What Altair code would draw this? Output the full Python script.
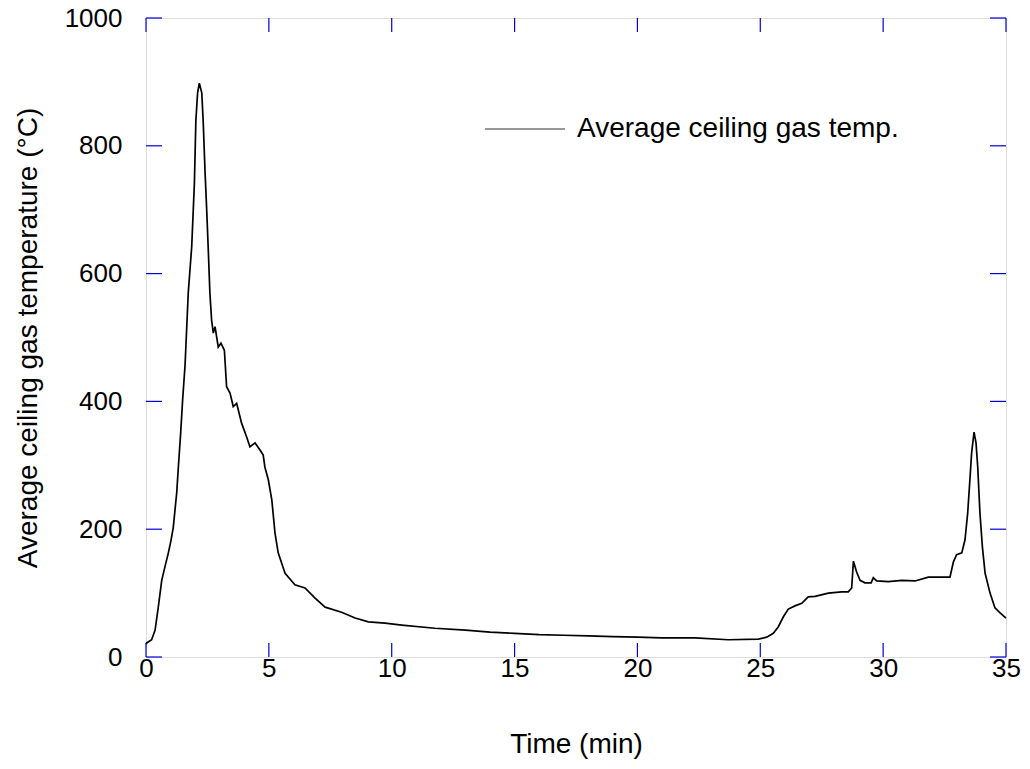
import altair as alt
import pandas as pd

# ---- data ----
time_min = [0.0, 0.03, 0.23, 0.37, 0.50, 0.64, 0.77, 0.91, 1.02, 1.11, 1.25, 1.31, 1.41, 1.49,
            1.59, 1.72, 1.86, 1.97, 2.03, 2.10, 2.17, 2.27, 2.33, 2.40, 2.47, 2.54, 2.60, 2.67,
            2.74, 2.81, 2.94, 3.05, 3.19, 3.28, 3.42, 3.55, 3.69, 3.89, 4.10, 4.23, 4.44, 4.64,
            4.77, 4.84, 4.98, 5.12, 5.25, 5.38, 5.66, 6.06, 6.47, 6.88, 7.29, 7.96, 8.51, 9.05,
            9.73, 10.41, 11.76, 13.0, 14.0, 15.0, 16.0, 17.0, 18.0, 19.0, 20.0, 21.0, 22.34,
            23.70, 24.92, 25.26, 25.53, 25.73, 25.94, 26.14, 26.41, 26.69, 26.95, 27.23, 27.77,
            28.31, 28.58, 28.72, 28.79, 28.92, 29.06, 29.26, 29.51, 29.60, 29.74, 30.21, 30.76,
            31.30, 31.84, 32.52, 32.72, 32.86, 32.99, 33.20, 33.33, 33.44, 33.53, 33.60, 33.70,
            33.78, 33.85, 33.94, 34.04, 34.15, 34.35, 34.55, 34.76, 35.0]
temp_c = [20, 22, 27, 42, 78, 120, 141, 163, 183, 203, 257, 293, 350, 402,
          457, 570, 642, 742, 840, 883, 898, 883, 836, 762, 700, 632, 570, 527,
          507, 517, 485, 491, 480, 423, 413, 392, 397, 366, 344, 329, 335, 324,
          316, 297, 277, 246, 194, 163, 131, 113, 108, 92, 78, 70, 61, 55,
          53, 50, 45, 42, 39, 37, 35, 34, 33, 32, 31, 30, 30,
          27, 28, 31, 37, 47, 63, 75, 80, 84, 94, 95, 100,
          102, 102, 108, 150, 133, 120, 116, 116, 124, 119, 118, 120,
          119, 125, 125, 125, 149, 160, 163, 183, 225, 277, 319, 352,
          335, 297, 225, 172, 131, 100, 77, 69, 61]
x_ticks = [0, 5, 10, 15, 20, 25, 30, 35]
y_ticks = [0, 200, 400, 600, 800, 1000]
legend_label = ["Average ceiling gas temp."]
x_title = "Time (min)"
y_title = "Average ceiling gas temperature (°C)"

W, H = 860, 639
FONT = "Liberation Sans"
FS = 28
LFS = 26
BLUE = "#0000dd"

df = pd.DataFrame({"t": time_min, "T": temp_c})
xdf = pd.DataFrame({"t": x_ticks})
ydf = pd.DataFrame({"T": y_ticks})
ldf = pd.DataFrame({"label": legend_label})

xs = alt.Scale(domain=[0, 35], nice=False, zero=False)
ys = alt.Scale(domain=[0, 1000], nice=False)

x_axis = alt.Axis(title=x_title, values=x_ticks, ticks=False, domain=False, grid=False,
                  format="d", labelPadding=-2, labelFontSize=LFS, labelFont=FONT,
                  labelColor="black", labelFlush=False, titleFontSize=FS, titleFont=FONT,
                  titleFontWeight="normal", titleColor="black", titleY=87,
                  titleBaseline="middle")
y_axis = alt.Axis(title=y_title, values=y_ticks, ticks=False, domain=False, grid=False,
                  format="d", labelPadding=24, labelFontSize=LFS, labelFont=FONT,
                  labelColor="black", labelFlush=False, titleFontSize=FS, titleFont=FONT,
                  titleFontWeight="normal", titleColor="black", titleX=-118, titleY=H / 2,
                  titleBaseline="middle", titleAlign="center", titleAngle=270)

X = alt.X("t:Q", scale=xs, axis=x_axis)
Y = alt.Y("T:Q", scale=ys, axis=y_axis)

line = alt.Chart(df).mark_line(color="black", strokeWidth=1.7).encode(x=X, y=Y)

bottom_ticks = alt.Chart(xdf).mark_rule(color=BLUE, strokeWidth=1.2).encode(
    x=X, y=alt.value(H), y2=alt.value(H - 14))
top_ticks = alt.Chart(xdf).mark_rule(color=BLUE, strokeWidth=1.2).encode(
    x=X, y=alt.value(0), y2=alt.value(14))
left_ticks = alt.Chart(ydf).mark_rule(color=BLUE, strokeWidth=1.2).encode(
    y=Y, x=alt.value(0), x2=alt.value(16))
right_ticks = alt.Chart(ydf).mark_rule(color=BLUE, strokeWidth=1.2).encode(
    y=Y, x=alt.value(W), x2=alt.value(W - 16))

legend_line = alt.Chart(ldf).mark_rule(color="#333333", strokeWidth=1).encode(
    x=alt.value(339), x2=alt.value(419), y=alt.value(111))
legend_text = alt.Chart(ldf).mark_text(align="left", baseline="middle", fontSize=FS,
                                       font=FONT, color="black").encode(
    x=alt.value(431), y=alt.value(111), text="label:N")

chart = alt.layer(line, bottom_ticks, top_ticks, left_ticks, right_ticks,
                  legend_line, legend_text).properties(
    width=W, height=H,
    autosize=alt.AutoSizeParams(type="none"),
    padding={"left": 138, "top": 10, "right": 16, "bottom": 103},
).configure_view(stroke="#3c3cff", strokeWidth=1.6).configure(background="white")

chart.save("out.html", embed_options={"renderer": "svg", "actions": False})
